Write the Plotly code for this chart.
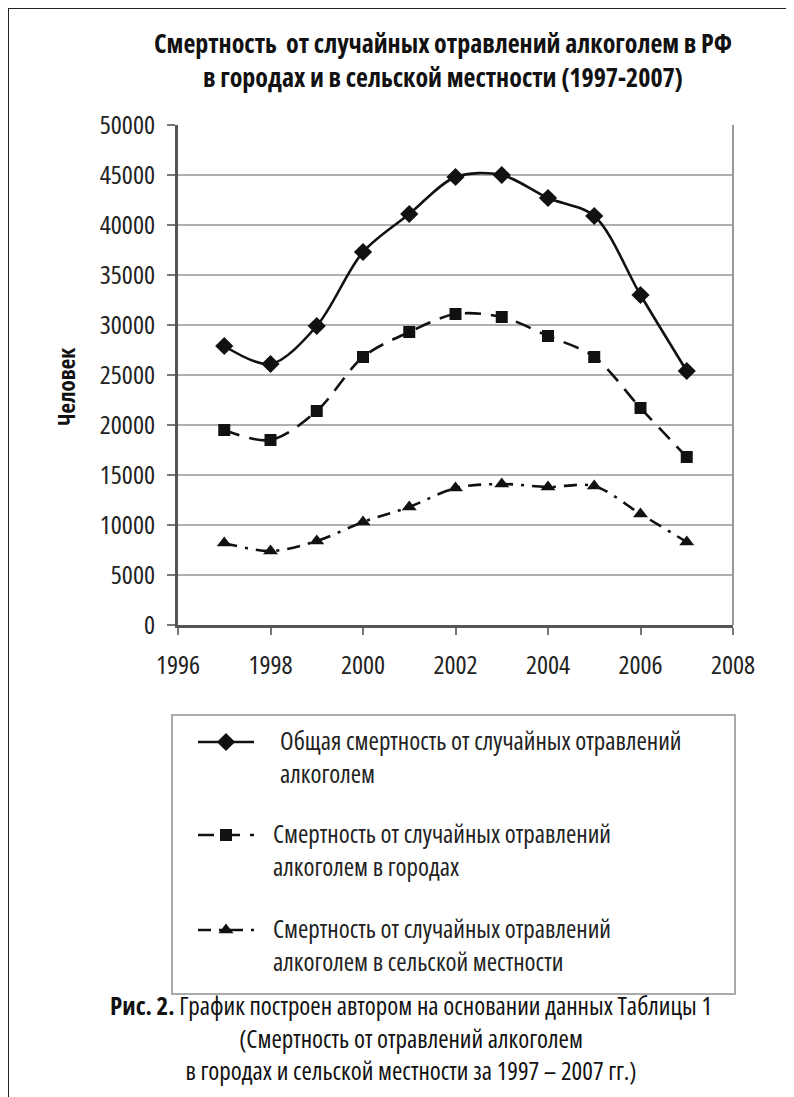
import plotly.graph_objects as go

years = [1997, 1998, 1999, 2000, 2001, 2002, 2003, 2004, 2005, 2006, 2007]
total = [27900, 26100, 29900, 37300, 41100, 44800, 45000, 42700, 40900, 33000, 25400]
urban = [19500, 18500, 21400, 26800, 29300, 31100, 30800, 28900, 26800, 21700, 16800]
rural = [8200, 7400, 8400, 10300, 11800, 13700, 14100, 13800, 13900, 11100, 8300]

x_ticks = [1996, 1998, 2000, 2002, 2004, 2006, 2008]
y_ticks = [0, 5000, 10000, 15000, 20000, 25000, 30000, 35000, 40000, 45000, 50000]

names = [
    ["Общая смертность от случайных отравлений", "алкоголем"],
    ["Смертность от случайных отравлений", "алкоголем в городах"],
    ["Смертность от случайных отравлений", "алкоголем в сельской местности"],
]
title_lines = ["Смертность  от случайных отравлений алкоголем в РФ",
               "в городах и в сельской местности (1997-2007)"]
y_title = "Человек"
caption = [
    "<b>Рис. 2.</b> График построен автором на основании данных Таблицы 1",
    "(Смертность от отравлений алкоголем",
    "в городах и сельской местности за 1997 – 2007 гг.)",
]

OFF = 8
W, H = 794 - OFF, 1097 - OFF
FONT = "Open Sans, sans-serif"
INK = "#111111"


def px(x):
    return (x - OFF) / W


def py(y):
    return 1 - (y - OFF) / H


def narrow(t):
    return "<span style=\"font-stretch:75%%\">%s</span>" % t


styles = [
    dict(symbol="diamond", size=14, dash="solid"),
    dict(symbol="square", size=12, dash="16px,10px"),
    dict(symbol="triangle-up", size=13, dash="13px,8px,3px,8px"),
]

fig = go.Figure()
for vals, st in zip([total, urban, rural], styles):
    fig.add_trace(go.Scatter(
        x=years, y=vals, mode="lines+markers", showlegend=False,
        line=dict(color=INK, width=2.6, shape="spline", smoothing=0.9, dash=st["dash"]),
        marker=dict(symbol=st["symbol"], size=st["size"], color=INK),
    ))

# legend symbols on a pixel-space overlay
leg_y = [742, 835, 930]
for yy, st in zip(leg_y, styles):
    fig.add_trace(go.Scatter(
        x=[198 - OFF, 254 - OFF], y=[yy - OFF, yy - OFF], mode="lines", xaxis="x2", yaxis="y2",
        showlegend=False, line=dict(color=INK, width=2.6, dash=st["dash"]),
    ))
    fig.add_trace(go.Scatter(
        x=[226 - OFF], y=[yy - OFF], mode="markers", xaxis="x2", yaxis="y2", showlegend=False,
        marker=dict(symbol=st["symbol"], size=st["size"], color=INK),
    ))

fig.update_layout(
    width=W, height=H,
    margin=dict(l=0, r=0, t=0, b=0, autoexpand=False),
    paper_bgcolor="white", plot_bgcolor="rgba(0,0,0,0)",
    font=dict(family=FONT, size=24, color=INK),
    showlegend=False,
    xaxis=dict(
        domain=[px(178), px(733)], range=[1996, 2008], automargin=False,
        tickmode="array", tickvals=x_ticks, ticktext=[narrow(str(v)) for v in x_ticks],
        showgrid=False, zeroline=False,
        showline=True, linecolor="#555", linewidth=2.5,
        ticks="outside", ticklen=7, tickcolor="#777", tickwidth=1.5,
        ticklabelstandoff=8,
        tickfont=dict(family=FONT, size=26, color="#222"),
    ),
    yaxis=dict(
        domain=[py(625), py(125)], range=[0, 50000], automargin=False,
        tickmode="array", tickvals=y_ticks, ticktext=[narrow(str(v)) for v in y_ticks],
        showgrid=True, gridcolor="#b0b0b0", gridwidth=1.8, zeroline=False,
        showline=True, linecolor="#555", linewidth=2.5,
        ticks="outside", ticklen=8, tickcolor="#777", tickwidth=1.5,
        ticklabelstandoff=7,
        tickfont=dict(family=FONT, size=26, color="#222"),
    ),
    xaxis2=dict(domain=[0, 1], range=[0, W], visible=False, anchor="y2", fixedrange=True),
    yaxis2=dict(domain=[0, 1], range=[H, 0], visible=False, anchor="x2", fixedrange=True),
)

# right border of the plot area
fig.add_shape(type="line", xref="x domain", yref="y domain", x0=1, x1=1, y0=0, y1=1,
              line=dict(color="#999", width=2))
# page frame (top and left)
fig.add_shape(type="line", xref="paper", yref="paper", x0=0, x1=1, y0=1, y1=1,
              line=dict(color="#222", width=2))
fig.add_shape(type="line", xref="paper", yref="paper", x0=0, x1=0, y0=1, y1=0,
              line=dict(color="#222", width=2))
# legend box
fig.add_shape(type="rect", xref="paper", yref="paper", x0=px(172), x1=px(735), y0=py(715), y1=py(994),
              line=dict(color="#aaa", width=2))

fig.add_annotation(xref="paper", yref="paper", x=px(443), y=py(60), xanchor="center", yanchor="middle",
                   text="<br>".join("<b>" + narrow(t) + "</b>" for t in title_lines), showarrow=False,
                   align="center", font=dict(family=FONT, size=26, color=INK))

fig.add_annotation(xref="paper", yref="paper", x=px(66), y=py(387), xanchor="center", yanchor="middle",
                   text="<b>" + narrow(y_title) + "</b>", textangle=-90, showarrow=False,
                   font=dict(family=FONT, size=23, color=INK))

leg_x = [278, 271, 271]
for lines, xx, yy in zip(names, leg_x, leg_y):
    fig.add_annotation(xref="paper", yref="paper", x=px(xx), y=py(yy + 14), xanchor="left",
                       yanchor="middle", align="left",
                       text="<br>".join(narrow(t) for t in lines), showarrow=False,
                       font=dict(family=FONT, size=25, color="#222"))

fig.add_annotation(xref="paper", yref="paper", x=px(411), y=py(1037), xanchor="center", yanchor="middle",
                   align="center", text="<br>".join(narrow(t) for t in caption), showarrow=False,
                   font=dict(family=FONT, size=25, color=INK))

fig.write_html("out.html")
